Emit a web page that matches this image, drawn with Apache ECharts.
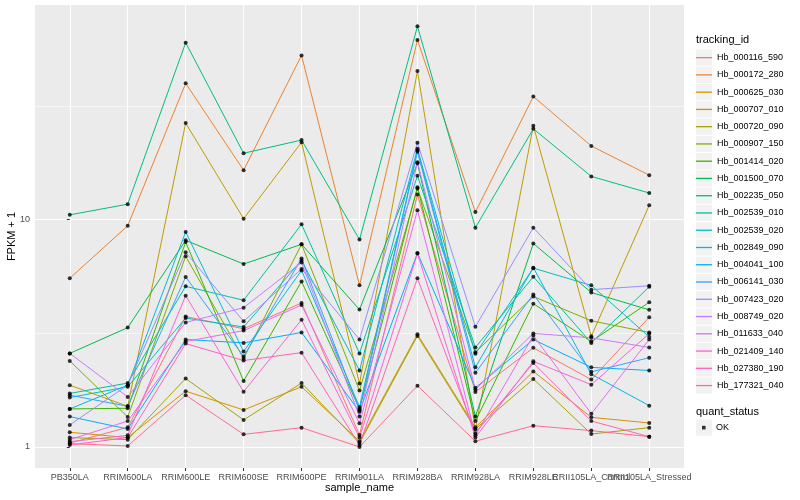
<!DOCTYPE html>
<html><head><meta charset="utf-8">
<script src="https://cdn.jsdelivr.net/npm/echarts@6/dist/echarts.min.js"></script>
<style>html,body{margin:0;padding:0;background:#fff}#c{width:800px;height:500px}</style>
</head><body><div id="c"></div>
<script>
const categories = ['PB350LA','RRIM600LA','RRIM600LE','RRIM600SE','RRIM600PE','RRIM901LA','RRIM928BA','RRIM928LA','RRIM928LE','RRII105LA_Control','RRII105LA_Stressed'];
const seriesNames = ['Hb_000116_590','Hb_000172_280','Hb_000625_030','Hb_000707_010','Hb_000720_090','Hb_000907_150','Hb_001414_020','Hb_001500_070','Hb_002235_050','Hb_002539_010','Hb_002539_020','Hb_002849_090','Hb_004041_100','Hb_006141_030','Hb_007423_020','Hb_008749_020','Hb_011633_040','Hb_021409_140','Hb_027380_190','Hb_177321_040'];
const seriesColors = ['#F8766D','#EA8331','#D89000','#C09B00','#A3A500','#7CAE00','#39B600','#00BB4E','#00BF7D','#00C1A3','#00BFC4','#00BAE0','#00B0F6','#35A2FF','#9590FF','#C77CFF','#E76BF3','#FA62DB','#FF62BC','#FF6C91'];

// FPKM + 1 values, one array per tracking_id (order = categories)
const Hb_000116_590 = [1.04, 1.22, 3.75, 3.31, 4.30, 1.13, 12.9, 1.745, 2.73, 1.98, 3.72];
const Hb_000172_280 = [5.52, 9.4, 39.8, 16.5, 52.8, 5.14, 61.8, 10.8, 34.8, 21.1, 15.7];
const Hb_000625_030 = [1.16, 1.10, 1.76, 1.455, 1.84, 1.06, 3.13, 1.22, 2.15, 1.35, 1.275];
const Hb_000707_010 = [1.87, 1.51, 26.6, 10.1, 21.9, 1.90, 45.1, 1.20, 25.9, 3.07, 11.56];
const Hb_000720_090 = [1.10, 1.077, 2.00, 1.315, 1.91, 1.04, 3.08, 1.20, 1.99, 1.14, 1.216];
const Hb_000907_150 = [2.39, 1.355, 6.90, 2.45, 7.79, 1.77, 13.7, 2.61, 4.59, 3.59, 3.19];
const Hb_001414_020 = [1.47, 1.48, 7.98, 1.95, 5.35, 1.47, 13.9, 1.30, 4.27, 2.91, 4.33];
const Hb_001500_070 = [2.58, 3.35, 8.11, 6.38, 7.79, 4.02, 17.7, 1.36, 7.86, 4.78, 4.01];
const Hb_002235_050 = [10.5, 11.7, 60.1, 19.6, 22.4, 8.17, 70.9, 9.22, 25.1, 15.5, 13.1];
const Hb_002539_010 = [1.72, 1.91, 5.09, 4.42, 9.54, 2.58, 15.6, 2.74, 5.61, 2.87, 5.07];
const Hb_002539_020 = [1.65, 1.84, 3.69, 3.37, 6.62, 2.17, 20.5, 2.57, 6.12, 5.14, 3.05];
const Hb_002849_090 = [1.47, 1.87, 8.83, 2.63, 5.98, 1.50, 20.2, 2.24, 6.15, 2.09, 1.52];
const Hb_004041_100 = [1.36, 1.20, 2.97, 2.87, 3.19, 1.43, 7.14, 1.82, 2.97, 2.24, 2.17];
const Hb_006141_030 = [1.69, 1.51, 5.60, 2.50, 6.74, 1.45, 19.9, 2.12, 4.69, 2.14, 2.47];
const Hb_007423_020 = [1.25, 1.87, 7.18, 3.57, 6.07, 2.97, 21.8, 3.38, 9.22, 4.92, 5.12];
const Hb_008749_020 = [2.58, 1.66, 3.53, 4.10, 6.48, 1.36, 17.9, 1.79, 3.16, 3.02, 2.74];
const Hb_011633_040 = [1.077, 1.30, 2.91, 3.25, 4.21, 1.27, 11.0, 1.125, 3.09, 1.40, 2.97];
const Hb_021409_140 = [1.055, 1.125, 4.63, 1.75, 3.63, 1.10, 7.1, 1.10, 2.38, 1.88, 3.15];
const Hb_027380_190 = [1.02, 1.10, 2.85, 2.40, 2.60, 1.02, 5.52, 1.15, 2.34, 1.30, 1.11];
const Hb_177321_040 = [1.034, 1.01, 1.69, 1.136, 1.216, 1.00, 1.86, 1.06, 1.24, 1.18, 1.11];

const seriesValues = [Hb_000116_590, Hb_000172_280, Hb_000625_030, Hb_000707_010, Hb_000720_090, Hb_000907_150, Hb_001414_020, Hb_001500_070, Hb_002235_050, Hb_002539_010, Hb_002539_020, Hb_002849_090, Hb_004041_100, Hb_006141_030, Hb_007423_020, Hb_008749_020, Hb_011633_040, Hb_021409_140, Hb_027380_190, Hb_177321_040];

const yTickValues = [1, 10];
const yMinorValues = [3.1623, 31.623];
const yTickLabels = ['1', '10'];
const statusName = 'OK';

const FONT = '"Liberation Sans", Arial, Helvetica, sans-serif';
const xTickValues = categories.map((c, i) => i);
const xEvenValues = xTickValues.filter(i => i % 2 === 0);
const xOddValues = xTickValues.filter(i => i % 2 === 1);

const lineSeries = seriesNames.map((name, k) => ({
  name: name,
  type: 'line',
  data: seriesValues[k].map((v, i) => [i, v]),
  showSymbol: false,
  symbol: 'none',
  lineStyle: { color: seriesColors[k], width: 1 },
  itemStyle: { color: seriesColors[k] },
  z: 2,
  silent: true
}));

const pointData = [];
seriesValues.forEach(arr => arr.forEach((v, i) => pointData.push([i, v])));

const keyY0 = 49, keyH = 17.26;
const keyBoxes = seriesNames.map((n, i) => ({
  type: 'rect', left: 696, top: keyY0 + i * keyH + 0.5,
  shape: { width: 16, height: keyH - 1 },
  style: { fill: '#F2F2F2' }, z: 0
}));
keyBoxes.push({ type: 'rect', left: 696, top: 419 + 0.5, shape: { width: 16, height: keyH - 1 }, style: { fill: '#F2F2F2' }, z: 0 });

const legendItems = seriesNames.map((n, k) => ({
  name: n, icon: 'rect',
  itemStyle: { color: seriesColors[k], borderWidth: 0, opacity: 1 }
}));

const xLabelStyle = { color: '#4D4D4D', fontSize: 9, margin: 5, fontFamily: FONT, hideOverlap: false, formatter: v => categories[Math.round(v)] };

const chart = echarts.init(document.getElementById('c'), null, { renderer: 'canvas' });
chart.setOption({
  animation: false,
  textStyle: { fontFamily: FONT },
  title: [
    { text: 'tracking_id', left: 696, top: 34, padding: 0, textStyle: { fontSize: 11, fontWeight: 'normal', color: '#000', fontFamily: FONT } },
    { text: 'quant_status', left: 696, top: 406, padding: 0, textStyle: { fontSize: 11, fontWeight: 'normal', color: '#000', fontFamily: FONT } }
  ],
  grid: { left: 35, right: 116, top: 5, bottom: 32, show: true, backgroundColor: '#EBEBEB', borderWidth: 0, containLabel: false, outerBoundsMode: 'none' },
  xAxis: [{
    type: 'value', min: -0.6, max: 10.6, position: 'bottom',
    axisLine: { show: false },
    axisTick: { customValues: xTickValues, length: 3, lineStyle: { color: '#333333', width: 1 } },
    axisLabel: Object.assign({ customValues: xEvenValues }, xLabelStyle),
    splitLine: { show: true, lineStyle: { color: '#FFFFFF', width: 1.1 } },
    name: 'sample_name', nameLocation: 'middle', nameGap: 14, nameMoveOverlap: false,
    nameTextStyle: { fontSize: 11, color: '#000', fontFamily: FONT }
  }, {
    type: 'value', min: -0.6, max: 10.6, position: 'bottom', offset: 0,
    axisLine: { show: false },
    axisTick: { show: false, customValues: xOddValues },
    axisLabel: Object.assign({ customValues: xOddValues }, xLabelStyle),
    splitLine: { show: false }
  }],
  yAxis: [{
    type: 'log', logBase: 10, min: 0.808, max: 88,
    axisLine: { show: false },
    axisTick: { customValues: yTickValues, length: 3, lineStyle: { color: '#333333', width: 1 } },
    axisLabel: { customValues: yTickValues, formatter: v => yTickLabels[yTickValues.indexOf(Math.round(v))] || '', color: '#4D4D4D', fontSize: 9, margin: 5, fontFamily: FONT },
    splitLine: { show: true, lineStyle: { color: '#FFFFFF', width: 1.1 } },
    name: 'FPKM + 1', nameLocation: 'middle', nameGap: 18, nameMoveOverlap: false,
    nameTextStyle: { fontSize: 11, color: '#000', fontFamily: FONT }
  }, {
    type: 'log', logBase: 10, min: 0.808, max: 88, position: 'left',
    axisLine: { show: false },
    axisTick: { show: false, customValues: yMinorValues },
    axisLabel: { show: false, customValues: yMinorValues },
    splitLine: { show: true, lineStyle: { color: '#FFFFFF', width: 0.55 } }
  }],
  legend: [{
    data: legendItems, orient: 'vertical', left: 696, top: keyY0, padding: 0,
    itemWidth: 16, itemHeight: 1.3, itemGap: 0, selectedMode: false,
    textStyle: { fontSize: 9, color: '#000', fontFamily: FONT, lineHeight: keyH }
  }, {
    data: [{ name: statusName, icon: 'rect', itemStyle: { color: '#000' } }],
    orient: 'vertical', left: 702, top: 419, padding: 0,
    itemWidth: 3.6, itemHeight: 3.6, itemGap: 0, selectedMode: false,
    textStyle: { fontSize: 9, color: '#000', fontFamily: FONT, lineHeight: keyH, padding: [0, 0, 0, 5.4] }
  }],
  graphic: keyBoxes,
  series: lineSeries.concat([{
    name: statusName, type: 'scatter', data: pointData,
    symbol: 'circle', symbolSize: 4,
    itemStyle: { color: '#000000' }, z: 5, silent: true
  }])
});
</script></body></html>
